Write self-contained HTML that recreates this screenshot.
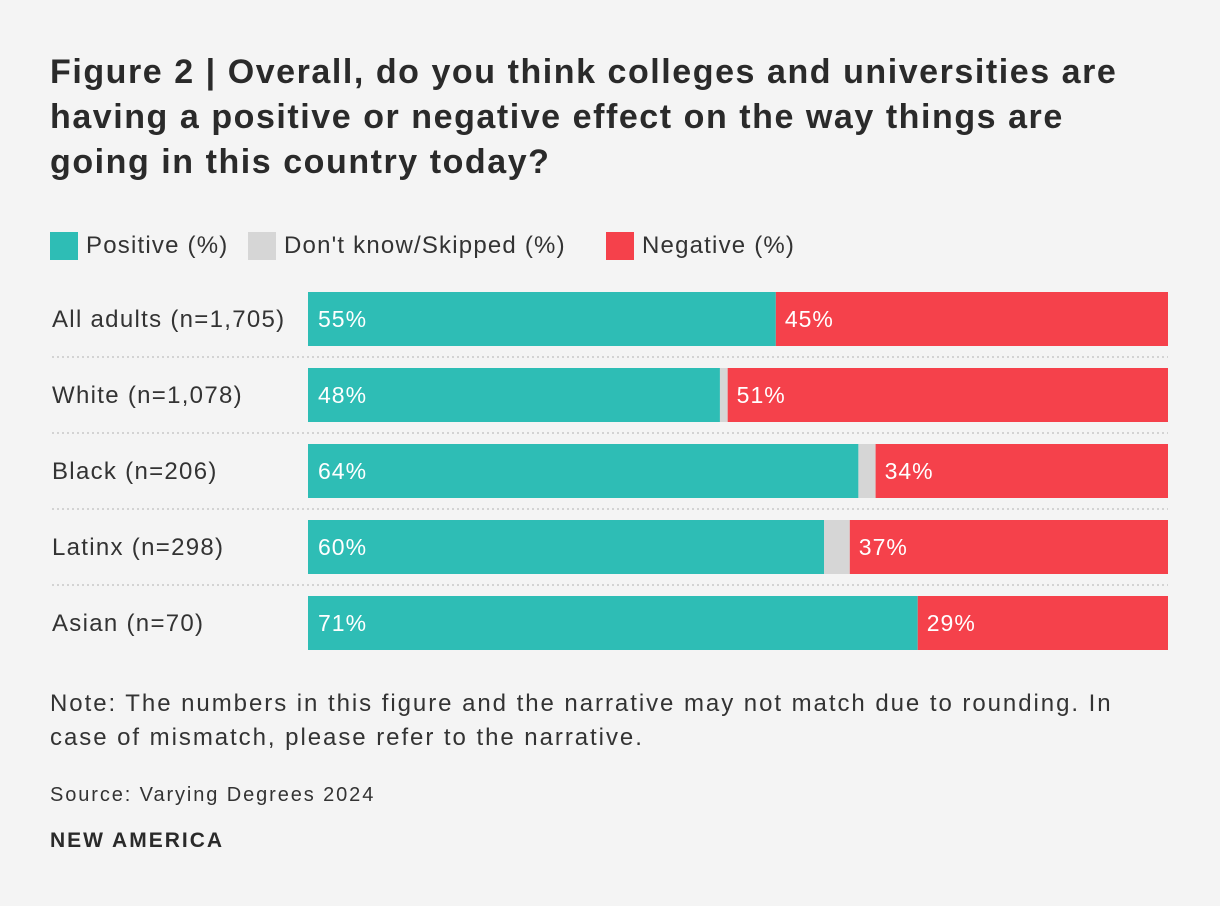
<!DOCTYPE html>
<html><head><meta charset="utf-8"><style>
body{margin:0;background:#f4f4f4;font-family:"Liberation Sans",sans-serif;color:#333;}
#wrap{position:relative;width:1220px;height:906px;overflow:hidden;}
h1{position:absolute;left:50px;top:50px;margin:0;font-size:34px;line-height:45px;font-weight:bold;color:#2a2a2a;width:1160px;letter-spacing:1.55px;white-space:nowrap;}
.leg{position:absolute;top:232px;font-size:24px;line-height:28px;display:flex;align-items:center;letter-spacing:1.2px;}
.leg i{display:inline-block;width:28px;height:28px;margin-right:8px;}
.note{position:absolute;left:50px;top:687px;font-size:24px;line-height:34px;width:1160px;letter-spacing:1.95px;white-space:nowrap;}
.src{position:absolute;left:50px;top:784px;font-size:20px;letter-spacing:1.9px;}
.brand{position:absolute;left:50px;top:829px;font-size:21px;font-weight:bold;color:#2a2a2a;letter-spacing:2px;}
</style></head><body><div id="wrap">
<h1>Figure 2 | Overall, do you think colleges and universities are<br>having a positive or negative effect on the way things are<br>going in this country today?</h1>
<div class="leg" style="left:50px"><i style="background:#2ebdb5"></i>Positive (%)</div>
<div class="leg" style="left:248px"><i style="background:#d6d6d6"></i>Don't know/Skipped (%)</div>
<div class="leg" style="left:606px"><i style="background:#f5414b"></i>Negative (%)</div>
<svg id="plot" width="1220" height="906" style="position:absolute;left:0;top:0"></svg>
<div class="note">Note: The numbers in this figure and the narrative may not match due to rounding. In<br>case of mismatch, please refer to the narrative.</div>
<div class="src">Source: Varying Degrees 2024</div>
<div class="brand">NEW AMERICA</div>
</div>
<script>
const categories=["All adults (n=1,705)","White (n=1,078)","Black (n=206)","Latinx (n=298)","Asian (n=70)"];
const positive=[54.4,47.9,64,60,70.9];
const dontKnow=[0,0.9,2,3,0];
const negative=[45.6,51.2,34,37,29.1];
const posLabels=["55%","48%","64%","60%","71%"];
const negLabels=["45%","51%","34%","37%","29%"];
const svg=document.getElementById('plot');
const NS="http://www.w3.org/2000/svg";
const x0=308,w=860,top0=292,pitch=76,bh=54;
const xs=v=>v/100*w;
const ys=i=>top0+i*pitch;
function mk(t,a){const e=document.createElementNS(NS,t);for(const k in a)e.setAttribute(k,a[k]);svg.appendChild(e);return e;}
categories.forEach((c,i)=>{
 const y=ys(i);
 const lab=mk('text',{x:52,y:y+bh/2+8,'font-size':24,'letter-spacing':1.3,fill:'#333'});lab.textContent=c;
 
 
 let x=x0;
 const p=mk('rect',{x:x,y:y,width:xs(positive[i]),height:bh,fill:'#2ebdb5'});
 
 
 const pt=mk('text',{x:x+10,y:y+bh/2+8,'font-size':23,'letter-spacing':1,fill:'#fff'});pt.textContent=posLabels[i];
 
 
 x+=xs(positive[i]);
 const d=mk('rect',{x:x,y:y,width:xs(dontKnow[i]),height:bh,fill:'#d6d6d6'});
 
 
 x+=xs(dontKnow[i]);
 const n=mk('rect',{x:x,y:y,width:xs(negative[i]),height:bh,fill:'#f5414b'});
 
 
 const nt=mk('text',{x:x+9,y:y+bh/2+8,'font-size':23,'letter-spacing':1,fill:'#fff'});nt.textContent=negLabels[i];
 
 
 if(i<categories.length-1){
  const s=mk('line',{x1:52,x2:1168,y1:y+bh+11,y2:y+bh+11,stroke:'#c8c8c8','stroke-width':1.5,'stroke-dasharray':'2 3'});
  
  
 }
});
</script></body></html>
